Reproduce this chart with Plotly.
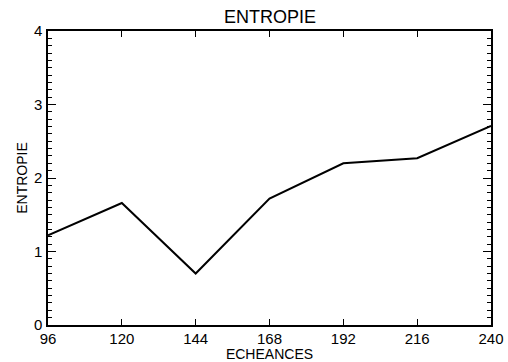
import plotly.graph_objects as go

echeances = [96, 120, 144, 168, 192, 216, 240]
entropie = [1.22, 1.66, 0.70, 1.72, 2.20, 2.27, 2.71]
x_ticks = [96, 120, 144, 168, 192, 216, 240]
y_ticks = [0, 1, 2, 3, 4]

FAM = "Liberation Sans, Arial, sans-serif"

fig = go.Figure()
fig.add_trace(go.Scatter(x=echeances, y=entropie, mode="lines",
                         line=dict(color="black", width=2), showlegend=False))

fig.update_layout(
    width=508, height=362,
    margin=dict(l=48, r=17, t=31, b=37),
    paper_bgcolor="white", plot_bgcolor="white",
    font=dict(family=FAM, color="black", size=14),
    title=dict(text="ENTROPIE", x=270 / 508, xanchor="center", y=1 - 17 / 362, yanchor="middle",
               font=dict(size=18, family=FAM, color="black")),
)
fig.update_xaxes(
    range=[96, 240], tickvals=x_ticks, ticktext=[str(v) for v in x_ticks],
    ticks="inside", ticklen=6, tickcolor="black", tickwidth=1,
    showline=True, linecolor="black", linewidth=1.5, mirror="ticks",
    showgrid=False, zeroline=False, automargin=False,
    ticklabelstandoff=-1,
    title=dict(text="ECHEANCES", standoff=0, font=dict(size=14, family=FAM, color="black")),
    tickfont=dict(size=15, family=FAM, color="black"),
)
fig.update_yaxes(
    range=[0, 4], tickvals=y_ticks, ticktext=[str(v) for v in y_ticks],
    ticks="inside", ticklen=8, tickcolor="black", tickwidth=1,
    minor=dict(dtick=0.1, ticks="inside", ticklen=4, tickcolor="black", showgrid=False),
    showline=True, linecolor="black", linewidth=1.5, mirror="ticks",
    showgrid=False, zeroline=False, automargin=False,
    ticklabelstandoff=1,
    title=dict(text="ENTROPIE", standoff=3, font=dict(size=14, family=FAM, color="black")),
    tickfont=dict(size=15, family=FAM, color="black"),
)
fig.write_html("out.html")
